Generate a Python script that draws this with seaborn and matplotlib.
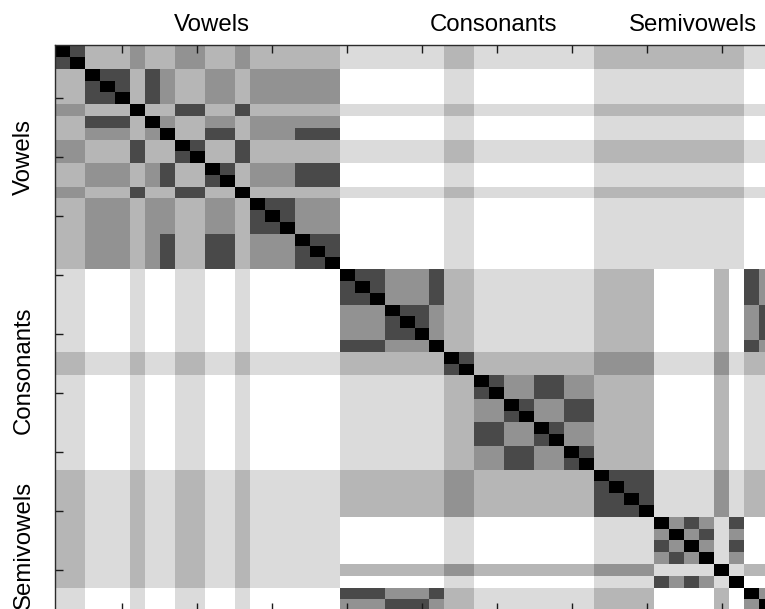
import numpy as np
import matplotlib
matplotlib.use("Agg")
import matplotlib.pyplot as plt
import seaborn as sns
from matplotlib.transforms import blended_transform_factory

# Dissimilarity codes (0 = black ... 7 = white), rows top to bottom.
# Column blocks: vowels | consonants / semivowels
CL_VOW = "66 777 6 7 7 66 77 6 777 777"
SV_VOW = "55 666 5 6 6 55 66 5 666 666"
X_CONS = "666 666 6 55 66 66 66 66 5555 5555 5 5 6 6"
Y_CONS = "777 777 7 66 77 77 77 77 6666 6666 6 6 7 7"

ROWS = [
    "02 555 4 5 5 44 55 4 555 555 " + X_CONS,
    "20 555 4 5 5 44 55 4 555 555 " + X_CONS,
    "55 022 5 2 4 55 44 5 444 444 " + Y_CONS,
    "55 202 5 2 4 55 44 5 444 444 " + Y_CONS,
    "55 220 5 2 4 55 44 5 444 444 " + Y_CONS,
    "44 555 0 5 5 22 55 2 555 555 " + X_CONS,
    "55 222 5 0 4 55 44 5 444 444 " + Y_CONS,
    "55 444 5 4 0 55 22 5 444 222 " + Y_CONS,
    "44 555 2 5 5 02 55 2 555 555 " + X_CONS,
    "44 555 2 5 5 20 55 2 555 555 " + X_CONS,
    "55 444 5 4 2 55 02 5 444 222 " + Y_CONS,
    "55 444 5 4 2 55 20 5 444 222 " + Y_CONS,
    "44 555 2 5 5 22 55 0 555 555 " + X_CONS,
    "55 444 5 4 4 55 44 5 022 444 " + Y_CONS,
    "55 444 5 4 4 55 44 5 202 444 " + Y_CONS,
    "55 444 5 4 4 55 44 5 220 444 " + Y_CONS,
    "55 444 5 4 2 55 22 5 444 022 " + Y_CONS,
    "55 444 5 4 2 55 22 5 444 202 " + Y_CONS,
    "55 444 5 4 2 55 22 5 444 220 " + Y_CONS,
    CL_VOW + " 022 444 2 55 66 66 66 66 5555 7777 5 7 2 4",
    CL_VOW + " 202 444 2 55 66 66 66 66 5555 7777 5 7 2 4",
    CL_VOW + " 220 444 2 55 66 66 66 66 5555 7777 5 7 2 4",
    CL_VOW + " 444 022 4 55 66 66 66 66 5555 7777 5 7 4 2",
    CL_VOW + " 444 202 4 55 66 66 66 66 5555 7777 5 7 4 2",
    CL_VOW + " 444 220 4 55 66 66 66 66 5555 7777 5 7 4 2",
    CL_VOW + " 222 444 0 55 66 66 66 66 5555 7777 5 7 2 4",
    SV_VOW + " 555 555 5 02 55 55 55 55 4444 6666 4 6 5 5",
    SV_VOW + " 555 555 5 20 55 55 55 55 4444 6666 4 6 5 5",
    CL_VOW + " 666 666 6 55 02 44 22 44 5555 7777 5 7 6 6",
    CL_VOW + " 666 666 6 55 20 44 22 44 5555 7777 5 7 6 6",
    CL_VOW + " 666 666 6 55 44 02 44 22 5555 7777 5 7 6 6",
    CL_VOW + " 666 666 6 55 44 20 44 22 5555 7777 5 7 6 6",
    CL_VOW + " 666 666 6 55 22 44 02 44 5555 7777 5 7 6 6",
    CL_VOW + " 666 666 6 55 22 44 20 44 5555 7777 5 7 6 6",
    CL_VOW + " 666 666 6 55 44 22 44 02 5555 7777 5 7 6 6",
    CL_VOW + " 666 666 6 55 44 22 44 20 5555 7777 5 7 6 6",
    SV_VOW + " 555 555 5 44 55 55 55 55 0222 6666 4 6 5 5",
    SV_VOW + " 555 555 5 44 55 55 55 55 2022 6666 4 6 5 5",
    SV_VOW + " 555 555 5 44 55 55 55 55 2202 6666 4 6 5 5",
    SV_VOW + " 555 555 5 44 55 55 55 55 2220 6666 4 6 5 5",
    SV_VOW + " 777 777 7 66 77 77 77 77 6666 0424 6 2 7 7",
    SV_VOW + " 777 777 7 66 77 77 77 77 6666 4042 6 4 7 7",
    SV_VOW + " 777 777 7 66 77 77 77 77 6666 2404 6 2 7 7",
    SV_VOW + " 777 777 7 66 77 77 77 77 6666 4240 6 4 7 7",
    SV_VOW + " 555 555 5 44 55 55 55 55 4444 6666 0 6 5 5",
    SV_VOW + " 777 777 7 66 77 77 77 77 6666 2424 6 0 7 7",
    CL_VOW + " 222 444 2 55 66 66 66 66 5555 7777 5 7 0 4",
    CL_VOW + " 444 222 4 55 66 66 66 66 5555 7777 5 7 4 0",
]

GROUP_LABELS = ["Vowels", "Consonants", "Semivowels"]
TOP_LABEL_X = [10.48, 29.26, 42.6]     # data columns
LEFT_LABEL_Y = [9.5, 27.6, 42.4]       # data rows
TICKS = [5, 10, 15, 20, 25, 30, 35, 40, 45]

M = np.array([[int(c) for c in "".join(r.split())] for r in ROWS])

W, H = 765, 609
fig = plt.figure(figsize=(W / 100, H / 100), dpi=100)
n = M.shape[0]
cw, rh = 14.98, 11.79
x0, y0 = 55.0, 45.2
ax = fig.add_axes([x0 / W, 1 - (y0 + n * rh) / H, n * cw / W, n * rh / H])

sns.heatmap(M, cmap="gray", vmin=0, vmax=7, cbar=False, ax=ax,
            xticklabels=False, yticklabels=False)

tpos = [t - 0.5 for t in TICKS]
ax.set_xticks(tpos)
ax.set_yticks(tpos)
ax.set_xticklabels([])
ax.set_yticklabels([])
ax.tick_params(direction="in", length=6, width=1.0, color="#1a1a1a",
               top=True, bottom=True, left=True, right=True)
for s in ax.spines.values():
    s.set_visible(True)
    s.set_color("#2b2b2b")
    s.set_linewidth(1.0)

font = ["Liberation Sans", "DejaVu Sans"]
trans_top = blended_transform_factory(ax.transData, fig.transFigure)
for lab, x in zip(GROUP_LABELS, TOP_LABEL_X):
    ax.text(x, 1 - 30.7 / H, lab, transform=trans_top, ha="center", va="baseline",
            fontsize=17.3, family=font, color="black")

trans_left = blended_transform_factory(fig.transFigure, ax.transData)
for lab, y in zip(GROUP_LABELS, LEFT_LABEL_Y):
    ax.text(24 / W, y, lab, transform=trans_left, ha="center", va="center",
            rotation=90, fontsize=17.3, family=font, color="black", clip_on=False)

fig.savefig("out.png", dpi=100)
